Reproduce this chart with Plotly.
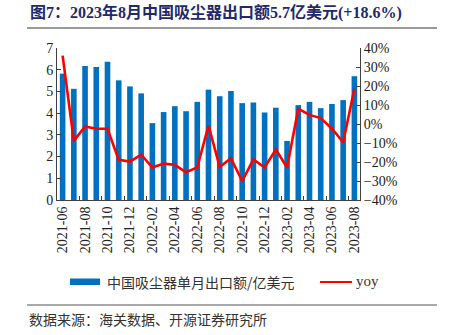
import plotly.graph_objects as go

# Monthly export value of vacuum cleaners (100 million USD) and year-on-year growth (%)
months = [
    "2021-06", "2021-07", "2021-08", "2021-09", "2021-10", "2021-11", "2021-12",
    "2022-01", "2022-02", "2022-03", "2022-04", "2022-05", "2022-06", "2022-07",
    "2022-08", "2022-09", "2022-10", "2022-11", "2022-12", "2023-01", "2023-02",
    "2023-03", "2023-04", "2023-05", "2023-06", "2023-07", "2023-08",
]
export_value = [
    5.82, 5.12, 6.17, 6.12, 6.37, 5.51, 5.23, 4.91, 3.54, 4.05, 4.32, 4.09, 4.52, 5.08,
    4.78, 5.02, 4.46, 4.49, 4.03, 4.25, 2.72, 4.37, 4.52, 4.23, 4.42, 4.60, 5.70,
]
yoy = [
    36.0, -8.9, -1.3, -2.5, -2.5, -18.9, -19.8, -16.1, -22.9, -20.8, -21.5, -25.4, -22.8, -0.8,
    -22.6, -18.0, -30.0, -18.7, -22.9, -13.4, -22.9, 8.0, 4.8, 3.1, -2.5, -9.6, 18.6,
]

BAR_COLOR = "#0070C0"
LINE_COLOR = "#FF0000"
SERIF = "Liberation Serif, Times New Roman, Noto Sans CJK SC, serif"
CJK = "Noto Sans CJK SC, sans-serif"

fig = go.Figure()
fig.add_trace(go.Bar(
    x=months, y=export_value, name="中国吸尘器单月出口额/亿美元",
    marker=dict(color=BAR_COLOR, line=dict(width=0)), width=0.5,
))
fig.add_trace(go.Scatter(
    x=months, y=yoy, name="yoy", yaxis="y2", mode="lines",
    line=dict(color=LINE_COLOR, width=2.6),
))

# plot area spans x 57..360 px, y 48..200 px in a 455x335 canvas
L, R, T, B = 57, 360, 48, 200
W, H = R - L, B - T


def px_x(p):
    return (p - L) / W


def px_y(p):
    return (B - p) / H


axis_color = "#404040"
fig.update_layout(
    width=455, height=335,
    margin=dict(l=L, r=455 - R, t=T, b=335 - B),
    paper_bgcolor="white", plot_bgcolor="white",
    showlegend=False,
    bargap=0.5,
    xaxis=dict(
        type="category", tickmode="linear", tick0=0, dtick=2,
        tickson="boundaries", ticks="inside", ticklen=4, tickcolor=axis_color,
        tickangle=-90, showline=True, linecolor=axis_color, linewidth=1,
        showgrid=False, tickfont=dict(family=SERIF, size=14, color="#222"),
        range=[-0.5, len(months) - 0.5],
    ),
    yaxis=dict(
        range=[0, 7], dtick=1, ticks="inside", ticklen=4, tickcolor=axis_color,
        showline=True, linecolor=axis_color, linewidth=1, showgrid=False,
        zeroline=False, tickfont=dict(family=SERIF, size=14, color="#222"),
    ),
    yaxis2=dict(
        overlaying="y", side="right", range=[-40, 40], dtick=10,
        ticksuffix="%", ticks="inside", ticklen=4, tickcolor=axis_color,
        showline=True, linecolor=axis_color, linewidth=1, showgrid=False,
        zeroline=False, tickfont=dict(family=SERIF, size=14, color="#222"),
    ),
)

# title and rule beneath it
fig.add_annotation(
    text="<b>图7：2023年8月中国吸尘器出口额5.7亿美元(+18.6%)</b>",
    xref="paper", yref="paper", x=px_x(28), y=px_y(13),
    xanchor="left", yanchor="middle", showarrow=False,
    font=dict(family=SERIF, size=16, color="#1F2A6B"),
)
fig.add_shape(type="line", xref="paper", yref="paper",
              x0=px_x(27), x1=px_x(437), y0=px_y(28), y1=px_y(28),
              line=dict(color="#9A9A9A", width=2))

# legend drawn by hand: wide swatch for the bars, line for yoy
fig.add_shape(type="rect", xref="paper", yref="paper",
              x0=px_x(70), x1=px_x(100), y0=px_y(278.5), y1=px_y(285),
              fillcolor=BAR_COLOR, line=dict(width=0))
fig.add_annotation(
    text="中国吸尘器单月出口额/亿美元", xref="paper", yref="paper",
    x=px_x(105), y=px_y(282), xanchor="left", yanchor="middle", showarrow=False,
    font=dict(family=CJK, size=14, color="#333"),
)
fig.add_shape(type="line", xref="paper", yref="paper",
              x0=px_x(320), x1=px_x(352), y0=px_y(282), y1=px_y(282),
              line=dict(color=LINE_COLOR, width=2))
fig.add_annotation(
    text="yoy", xref="paper", yref="paper",
    x=px_x(354), y=px_y(281), xanchor="left", yanchor="middle", showarrow=False,
    font=dict(family=SERIF, size=15, color="#333"),
)

# footer rule and source note
fig.add_shape(type="line", xref="paper", yref="paper",
              x0=px_x(27), x1=px_x(437), y0=px_y(305), y1=px_y(305),
              line=dict(color="#8C8C8C", width=1.5))
fig.add_annotation(
    text="数据来源：海关数据、开源证券研究所", xref="paper", yref="paper",
    x=px_x(27), y=px_y(319), xanchor="left", yanchor="middle", showarrow=False,
    font=dict(family=CJK, size=14, color="#333"),
)

fig.write_html("out.html")
